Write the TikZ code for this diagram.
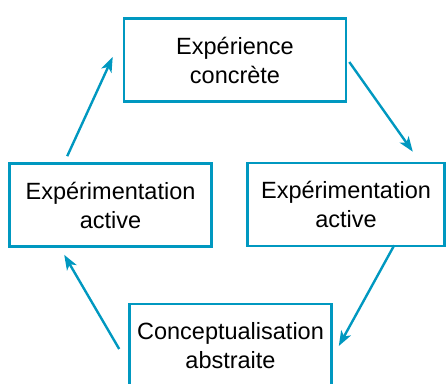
\documentclass[tikz,border=0pt]{standalone}
\usepackage{fontspec}
\setmainfont{Liberation Sans}
\usetikzlibrary{arrows, arrows.meta, positioning, calc, shapes}
\definecolor{cyclebl}{RGB}{0,152,192}

\begin{document}
\begin{tikzpicture}[x=1pt,y=-1pt,
    box/.style={draw=cyclebl,line width=2.6pt,minimum width=222pt,minimum height=83pt,
      align=center,inner sep=0pt,font=\fontsize{23.5}{29}\selectfont},
    flow/.style={-{Stealth[length=15pt,width=11pt,inset=4pt]},cyclebl,line width=2.4pt}]
    \useasboundingbox (0,0) rectangle (446,383);
    % the four stages of the cycle
    \node[box] (concrete) at (235,60) {Expérience\\concrète};
    \node[box,minimum width=202pt] (activeL) at (110.5,205) {Expérimentation\\active};
    \node[box,minimum width=197pt] (activeR) at (346,204.5) {Expérimentation\\active};
    \node[box,minimum width=202pt,minimum height=84pt] (abstract) at (230.5,346) {Conceptualisation\\abstraite};

    \draw[flow] ([shift={(59,-6)}]activeL.north west) -- ([shift={(-10,-3)}]concrete.west);
    \draw[flow] ([shift={(2,2)}]concrete.east) -- ([shift={(-33,-10)}]activeR.north east);
    \draw[flow] ([shift={(148,-2)}]activeR.south west) -- ([shift={(6,0)}]abstract.east);
    \draw[flow] ([shift={(-9,3)}]abstract.west) -- ([shift={(56,7)}]activeL.south west);
\end{tikzpicture}
\end{document}
